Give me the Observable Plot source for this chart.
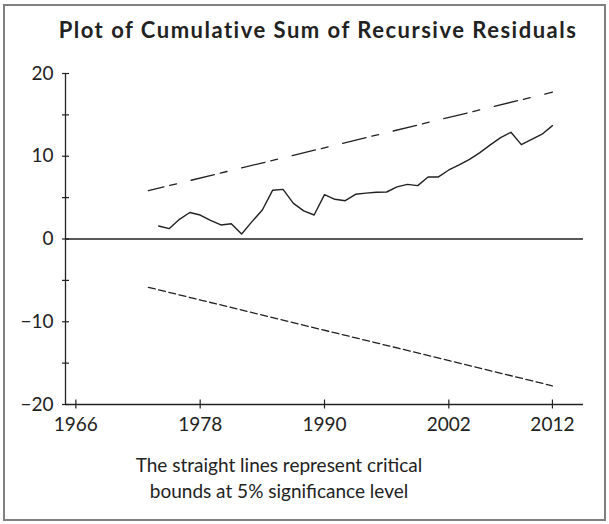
<!DOCTYPE html>
<html><head><meta charset="utf-8">
<script src="https://cdn.jsdelivr.net/npm/d3@7"></script>
<script src="https://cdn.jsdelivr.net/npm/@observablehq/plot@0.6"></script>
<style>
html,body{margin:0;padding:0;background:#fff;}
body{width:609px;height:524px;position:relative;overflow:hidden;font-family:Lato,"Open Sans",sans-serif;color:#222;}
#frame{position:absolute;left:3px;top:4px;width:603px;height:517px;box-sizing:border-box;border:2px solid #808080;}
#title{position:absolute;left:0;width:636px;top:19px;text-align:center;font-weight:bold;font-size:22px;letter-spacing:1.5px;line-height:1;white-space:nowrap;}
#chart{position:absolute;left:0;top:50px;}
#caption{position:absolute;left:0;width:558px;top:452px;text-align:center;font-size:19px;line-height:26px;}
</style>
</head><body>
<div id="frame"></div>
<div id="title">Plot of Cumulative Sum of Recursive Residuals</div>
<div id="chart"></div>
<div id="caption">The straight lines represent critical<br>bounds at 5% significance level</div>
<script>
const years = [1974,1975,1976,1977,1978,1979,1980,1981,1982,1983,1984,1985,1986,1987,1988,1989,1990,1991,1992,1993,1994,1995,1996,1997,1998,1999,2000,2001,2002,2003,2004,2005,2006,2007,2008,2009,2010,2011,2012];
const cusum = [1.57,1.25,2.38,3.2,2.9,2.26,1.7,1.85,0.6,2.1,3.5,5.9,6.0,4.3,3.4,2.9,5.36,4.8,4.63,5.4,5.55,5.65,5.68,6.3,6.6,6.45,7.5,7.5,8.34,8.95,9.63,10.44,11.37,12.25,12.9,11.4,12.05,12.66,13.7];
const boundYears = [1973, 2012];
const upperBound = [5.84, 17.74];
const lowerBound = [-5.84, -17.74];
const xDomain = [1965, 2015];
const yDomain = [-20, 20];
const xTicks = [1966, 1978, 1990, 2002, 2012];
const yLabelTicks = [-20, -10, 0, 10, 20];
const yMinorTicks = [-20, -15, -10, -5, 0, 5, 10, 15, 20];

const ink = "#222";
const chart = Plot.plot({
  width: 609,
  height: 390,
  marginLeft: 65,
  marginRight: 26,
  marginTop: 23,
  marginBottom: 36,
  style: {fontFamily: "Lato, 'Open Sans', sans-serif", fontSize: "19px", color: ink, background: "transparent"},
  x: {domain: xDomain},
  y: {domain: yDomain},
  marks: [
    Plot.ruleY([0], {stroke: ink, strokeWidth: 1.3}),
    Plot.ruleY([yDomain[0]], {stroke: ink, strokeWidth: 1.3}),
    Plot.ruleX([xDomain[0]], {y1: yDomain[0], y2: yDomain[1], stroke: ink, strokeWidth: 1.3}),
    Plot.axisY({ticks: yMinorTicks, tickSize: 7, dx: 4, tickFormat: () => "", stroke: ink, strokeWidth: 1.2}),
    Plot.axisY({ticks: yLabelTicks, tickSize: 0, tickPadding: 12, fill: ink}),
    Plot.axisX({ticks: xTicks, tickSize: 9, dy: -4.5, tickPadding: 8.5, tickFormat: d => String(d), stroke: ink, fill: ink, strokeWidth: 1.2}),
    Plot.line(upperBound, {x: (d, i) => boundYears[i], y: d => d, stroke: ink, strokeWidth: 1.3, strokeDasharray: "24,6,7,15", strokeDashoffset: 8}),
    Plot.line(lowerBound, {x: (d, i) => boundYears[i], y: d => d, stroke: ink, strokeWidth: 1.3, strokeDasharray: "7,3.5"}),
    Plot.line(cusum, {x: (d, i) => years[i], y: d => d, stroke: ink, strokeWidth: 1.4})
  ]
});
document.getElementById("chart").appendChild(chart);
</script>
</body></html>
